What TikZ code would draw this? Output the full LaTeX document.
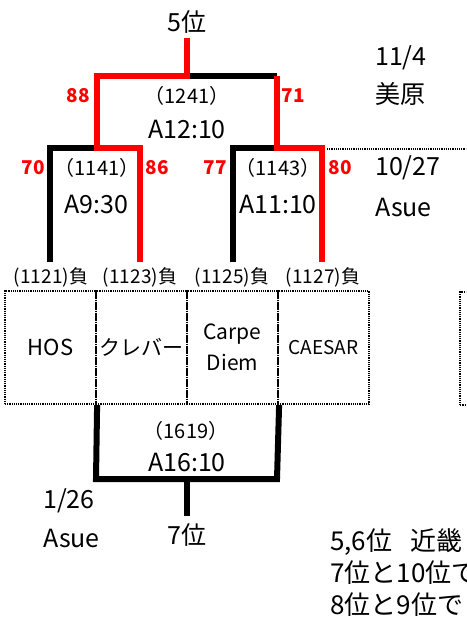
\documentclass[tikz,border=0pt]{standalone}
\usepackage{fontspec}
\setmainfont{Noto Sans CJK JP}
\usetikzlibrary{positioning}

\begin{document}
\begin{tikzpicture}
[
	x=1pt,y=-1pt,
	win/.style={line width=6,red},
	lose/.style={line width=6,black},
	txt/.style={inner sep=0,font=\fontsize{25}{25}\selectfont},
	date/.style={txt,anchor=west},
	match/.style={inner sep=0,font=\fontsize{20}{20}\selectfont},
	score/.style={inner sep=0,text=red,font=\bfseries\fontsize{19}{19}\selectfont},
	seed/.style={inner sep=0,font=\fontsize{19}{19}\selectfont},
	dots/.style={line width=2.2,dash pattern=on 1.2pt off 1pt},
	team/.style={rectangle,draw,dots,minimum width=91,minimum height=113,inner sep=0,align=center,font=\fontsize{21}{31}\selectfont},
	note/.style={inner sep=0,anchor=west,font=\fontsize{26}{26}\selectfont}
]
\clip (0,0) rectangle (466,620);

% top rounds
\node[txt] (rank5) at (187,22) {5位};
\node[match] (m1241) at (187,96) {（1241）};
\node[txt] (a1241) at (187,130) {A12:10};
\node[match] (m1141) at (97,168) {（1141）};
\node[txt] (a1141) at (96,205) {A9:30};
\node[match] (m1143) at (278,168) {（1143）};
\node[txt] (a1143) at (278,205) {A11:10};

\node[date] (d1) at (375,58) {11/4};
\node[date] (v1) at (375,94) {美原};
\node[date] (d2) at (375,168) {10/27};
\node[date] (v2) at (375,207) {Asue};

\node[score] (s88) at (78,96) {88};
\node[score] (s71) at (293,96) {71};
\node[score] (s70) at (33,168) {70};
\node[score] (s86) at (157,168) {86};
\node[score] (s77) at (215,168) {77};
\node[score] (s80) at (340,168) {80};

\node[seed] (l1121) at (51,277) {(1121)負};
\node[seed] (l1123) at (140,277) {(1123)負};
\node[seed] (l1125) at (232,277) {(1125)負};
\node[seed] (l1127) at (323,277) {(1127)負};

% teams
\node[team,font=\fontsize{22}{22}\selectfont] (hos) at (50.5,347.5) {HOS};
\node[team] (clever) at (141.5,347.5) {クレバー};
\node[team] (carpe) at (232.5,347.5) {Carpe\\Diem};
\node[team,font=\fontsize{19}{19}\selectfont] (caesar) at (323.5,347.5) {CAESAR};
\node[team,anchor=north west] (next) at (459,291) {};

% bottom round
\node[match] (m1619) at (186,431) {（1619）};
\node[txt] (a1619) at (187,462) {A16:10};
\node[date] (d3) at (43,501) {1/26};
\node[date] (v3) at (43,538) {Asue};
\node[txt] (rank7) at (187,535) {7位};

\node[note] (note1) at (330,542) {5,6位\hspace{0.7em}近畿};
\node[note] (note2) at (330,573) {7位と10位で};
\node[note] (note3) at (330,605) {8位と9位で};

% bracket corners
\coordinate (top) at (187,38);
\coordinate (tm) at (187,76);
\coordinate (tl) at (97,76);
\coordinate (tr) at (277,76);
\coordinate (ml) at (97,148);
\coordinate (mr) at (277,148);
\coordinate (ll) at (50,148);
\coordinate (lr) at (140,148);
\coordinate (rl) at (233,148);
\coordinate (rr) at (322,148);
\coordinate (e1121) at (50,262);
\coordinate (e1123) at (140,262);
\coordinate (e1125) at (233,262);
\coordinate (e1127) at (322,262);
\coordinate (bl) at (96,479);
\coordinate (br) at (277,479);
\coordinate (bm) at (187,479);
\coordinate (bot) at (187,516);
\coordinate (dl) at (327,149);
\coordinate (far) at (466,149);

\draw[lose] (tm) -- (tr);
\draw[lose] (ml) -- (ll) -- (e1121);
\draw[lose] (mr) -- (rl) -- (e1125);
\draw[win] (top) -- (tm) -- (tl) -- (ml) -- (lr) -- (e1123);
\draw[win] (tr) -- (mr) -- (rr) -- (e1127);
\draw[dots] (dl) -- (far);

\draw[lose] (hos.south east) -- (bl) -- (br) -- (carpe.south east);
\draw[lose] (bm) -- (bot);

\end{tikzpicture}
\end{document}
